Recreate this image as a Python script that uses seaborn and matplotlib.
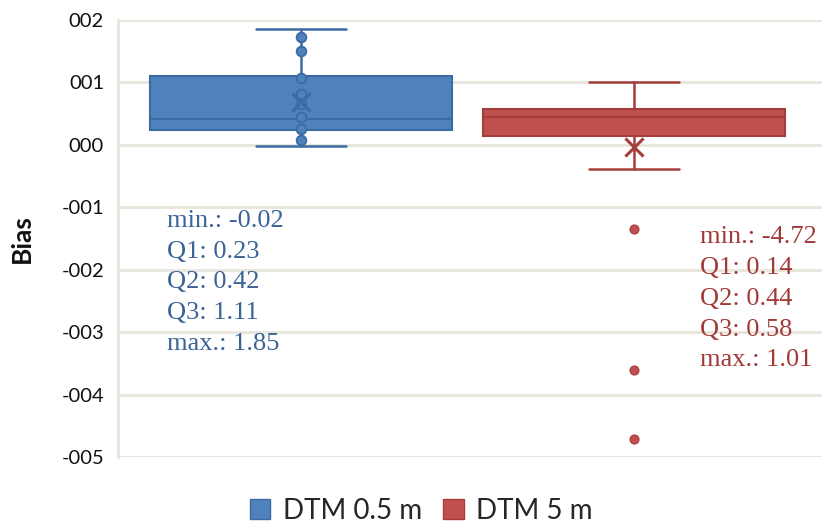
import numpy as np
import pandas as pd
import seaborn as sns
import matplotlib.pyplot as plt
from matplotlib.patches import Patch
from matplotlib.ticker import FuncFormatter

# data
groups = ["DTM 0.5 m", "DTM 5 m"]
whisker_lo = [-0.02, -0.39]
q1 = [0.23, 0.14]
q2 = [0.42, 0.44]
q3 = [1.11, 0.58]
whisker_hi = [1.85, 1.01]
means = [0.68, -0.04]
stat_min = [-0.02, -4.72]
stat_max = [1.85, 1.01]
blue_points = [1.73, 1.50, 1.07, 0.81, 0.66, 0.45, 0.26, 0.08]
red_outliers = [-1.35, -3.61, -4.71]

fill_cols = ["#4F81BD", "#C0504D"]
edge_cols = ["#3C6AA3", "#A33E3B"]
text_cols = ["#3A6397", "#A13A37"]
grid_col = "#E8E5DC"

sns.set_style("white")
plt.rcParams['font.family'] = ['Lato', 'DejaVu Sans']

fig = plt.figure(figsize=(8.24, 5.26), dpi=100)
ax = fig.add_axes([118 / 824, 69 / 526, 704 / 824, 437 / 526])

# boxes from the summary stats
stats = []
for i in range(2):
    stats.append(dict(med=q2[i], q1=q1[i], q3=q3[i], whislo=whisker_lo[i],
                      whishi=whisker_hi[i], mean=means[i], fliers=[], label=groups[i]))
bp = ax.bxp(stats, positions=[0, 1], widths=0.907, capwidths=0.27,
            patch_artist=True, showfliers=False, manage_ticks=False)
for i in range(2):
    bp['boxes'][i].set(facecolor=fill_cols[i], edgecolor=edge_cols[i], lw=1.5)
    bp['medians'][i].set(color=edge_cols[i], lw=1.5)
    for ln in bp['whiskers'][2 * i:2 * i + 2] + bp['caps'][2 * i:2 * i + 2]:
        ln.set(color=edge_cols[i], lw=1.8)

# points
pts = pd.DataFrame({"group": [groups[0]] * len(blue_points) + [groups[1]] * len(red_outliers),
                    "bias": blue_points + red_outliers})
sns.stripplot(data=pts[pts.group == groups[0]], x="group", y="bias", order=groups,
              jitter=False, color=fill_cols[0], size=7, linewidth=1.3,
              edgecolor=edge_cols[0], zorder=4, ax=ax)
sns.stripplot(data=pts[pts.group == groups[1]], x="group", y="bias", order=groups,
              jitter=False, color=fill_cols[1], size=6.5, linewidth=0.8,
              edgecolor=edge_cols[1], zorder=4, ax=ax)

# mean markers
for i in range(2):
    ax.scatter([i], [means[i]], marker='x', s=170, lw=2.2, color=edge_cols[i], zorder=5)

# annotations
text_x = [-0.403, 1.198]
text_y0 = [-1.31, -1.57]
for i in range(2):
    lines = [f"min.: {stat_min[i]:.2f}", f"Q1: {q1[i]:.2f}", f"Q2: {q2[i]:.2f}",
             f"Q3: {q3[i]:.2f}", f"max.: {stat_max[i]:.2f}"]
    for k, s in enumerate(lines):
        ax.text(text_x[i], text_y0[i] - k * 0.495, s, color=text_cols[i], fontsize=19,
                family=['Liberation Serif', 'DejaVu Serif'], va='baseline', ha='left')

ax.set_xlim(-0.55, 1.564)
ax.set_ylim(-5, 2)
ax.set_yticks(range(-5, 3))
ax.yaxis.set_major_formatter(FuncFormatter(lambda v, p: ("-" if v < 0 else "") + f"{abs(int(round(v))):03d}"))
ax.set_xticks([])
ax.set_xlabel("")
ax.yaxis.grid(True, color=grid_col, lw=2)
ax.set_axisbelow(True)
for s in ["top", "right", "bottom"]:
    ax.spines[s].set_visible(False)
ax.spines["left"].set_color(grid_col)
ax.spines["left"].set_linewidth(2)
ax.tick_params(axis='y', length=0, pad=10, labelsize=14.5, labelcolor="#111111")
ax.set_ylabel("Bias", fontsize=19, fontweight='bold', color="#111111")
ax.yaxis.set_label_coords(-0.12, 0.5)

handles = [Patch(facecolor=fill_cols[i], edgecolor=edge_cols[i], label=groups[i]) for i in range(2)]
fig.legend(handles=handles, loc='center', bbox_to_anchor=(0.511, 1 - 511 / 526), ncol=2,
           frameon=False, fontsize=20, handlelength=0.75, handleheight=0.75,
           handletextpad=0.45, columnspacing=0.75, borderpad=0.2)

fig.savefig("out.png", dpi=100)
